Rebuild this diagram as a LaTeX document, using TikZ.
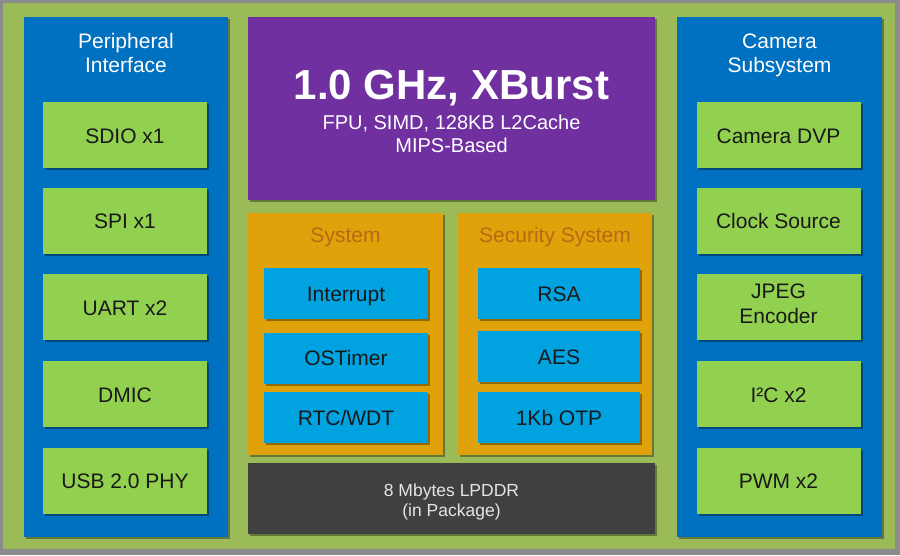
\documentclass[tikz,border=0pt]{standalone}
\usepackage{fontspec}
\setmainfont{Liberation Sans}
\usetikzlibrary{shadows}

\definecolor{fond}{RGB}{155,187,89}
\definecolor{bord}{RGB}{140,140,140}
\definecolor{bleu}{RGB}{0,112,192}
\definecolor{vert}{RGB}{146,208,80}
\definecolor{violet}{RGB}{112,48,160}
\definecolor{orange}{RGB}{224,162,10}
\definecolor{brun}{RGB}{185,105,20}
\definecolor{cyan}{RGB}{0,162,224}
\definecolor{gris}{RGB}{64,64,64}

\begin{document}
\begin{tikzpicture}[x=1pt, y=-1pt]
\tikzset{ombre/.style={drop shadow={shadow xshift=2pt, shadow yshift=-2pt, opacity=0.35, fill=black}},
  panneau/.style={fill=bleu, inner sep=0, ombre},
  cadre/.style={fill=orange, inner sep=0, minimum height=242pt, ombre},
  case/.style={fill=vert, inner sep=0, minimum width=164pt, minimum height=66pt, align=center,
    text=black!90, font=\fontsize{21}{25}\selectfont, execute at begin node=\rule[-6pt]{0pt}{28pt}, ombre},
  puce/.style={fill=cyan, inner sep=0, minimum height=51pt, align=center,
    text=black!90, font=\fontsize{21}{25}\selectfont, execute at begin node=\rule[-6pt]{0pt}{27pt}, ombre},
  titre/.style={align=center, font=\fontsize{21}{24}\selectfont}}
\useasboundingbox (0,0) rectangle (900,555);
\fill[bord] (0,0) rectangle (900,555);
\fill[fond] (3,3) rectangle (895,549);
% peripheral interface
\node[panneau, minimum width=204pt, minimum height=520pt] (PI) at (126,277) {};
\node[titre, text=white] (PIt) at (126,55.5) {Peripheral\strut\\Interface\strut};
\node[case] (P1) at (125,135) {SDIO x1};
\node[case] (P2) at (125,220.5) {SPI x1};
\node[case] (P3) at (125,307) {UART x2};
\node[case] (P4) at (125,394) {DMIC};
\node[case] (P5) at (125,480.5) {USB 2.0 PHY};
% camera subsystem
\node[panneau, minimum width=205pt, minimum height=520pt] (CS) at (779.5,277) {};
\node[titre, text=white] (CSt) at (779.5,55.5) {Camera\strut\\Subsystem\strut};
\node[case] (C1) at (778.5,135) {Camera DVP};
\node[case] (C2) at (778.5,220.5) {Clock Source};
\node[case, execute at begin node=\rule{0pt}{23pt}] (C3) at (778.5,307) {JPEG\\Encoder};
\node[case] (C4) at (778.5,394) {I²C x2};
\node[case] (C5) at (778.5,480.5) {PWM x2};
% cpu
\node[fill=violet, inner sep=0, minimum width=407pt, minimum height=183pt, ombre] (CPU) at (451.5,108.5) {};
\node[text=white, font=\fontsize{42}{42}\selectfont\bfseries] (CPUt) at (451.5,88) {1.0 GHz, XBurst};
\node[text=white, align=center, font=\fontsize{20}{23}\selectfont] (CPUs) at (451.5,134) {FPU, SIMD, 128KB L2Cache\\MIPS-Based};
% system
\node[cadre, minimum width=195pt] (SY) at (345.5,334) {};
\node[titre, text=brun] (SYt) at (345.5,237) {System};
\node[puce, minimum width=164pt] (S1) at (346,293.5) {Interrupt};
\node[puce, minimum width=164pt] (S2) at (346,358) {OSTimer};
\node[puce, minimum width=164pt] (S3) at (346,417.5) {RTC/WDT};
% security system
\node[cadre, minimum width=194pt] (SE) at (555,334) {};
\node[titre, text=brun] (SEt) at (555,237) {Security System};
\node[puce, minimum width=162pt] (K1) at (559,293.5) {RSA};
\node[puce, minimum width=162pt] (K2) at (559,356.5) {AES};
\node[puce, minimum width=162pt] (K3) at (559,417.5) {1Kb OTP};
% memory
\node[fill=gris, inner sep=0, minimum width=407pt, minimum height=71pt, ombre] (MEM) at (451.5,498.5) {};
\node[text=white!90!black, align=center, font=\fontsize{17.5}{20}\selectfont] (MEMt) at (451.5,502) {8 Mbytes LPDDR\\(in Package)};
\end{tikzpicture}
\end{document}
